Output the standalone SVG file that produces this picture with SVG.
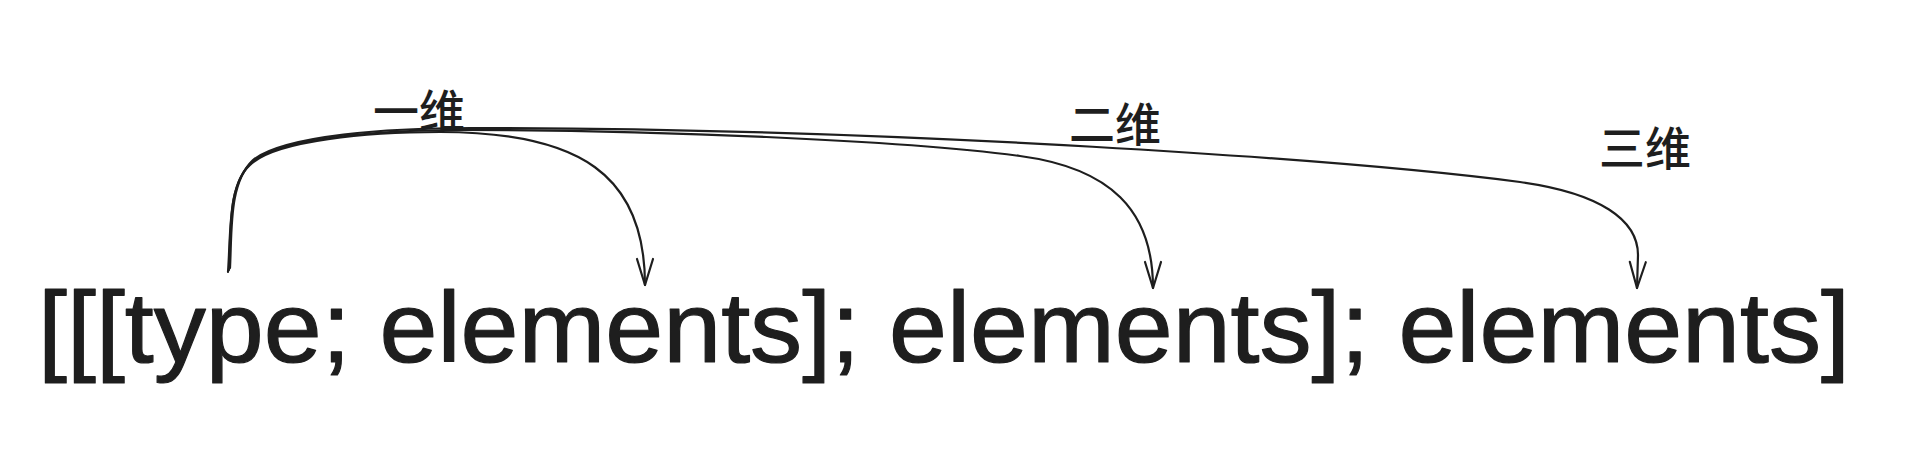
<svg xmlns="http://www.w3.org/2000/svg" width="1916" height="468" viewBox="0 0 1916 468">
  <style>
    .bg { fill: #ffffff; }
    .code { font-family: "Liberation Sans", "DejaVu Sans", sans-serif; font-size: 100px; fill: #1e1e1e; stroke: #1e1e1e; stroke-width: 1.2; stroke-linejoin: round; }
    .lbl { font-family: "Noto Sans CJK SC", "Noto Sans", sans-serif; font-size: 46px; font-weight: 500; fill: #1e1e1e; text-anchor: middle; }
    .conn { fill: none; stroke: #1e1e1e; stroke-width: 2.2; stroke-linecap: round; stroke-linejoin: round; }
  </style>
  <defs>
    <marker id="head" viewBox="-30 -14 34 28" refX="0" refY="0" markerWidth="34" markerHeight="28" markerUnits="userSpaceOnUse" orient="auto">
      <path d="M-26,-8 L0,0 L-26,8" fill="none" stroke="#1e1e1e" stroke-width="2.2" stroke-linecap="round" stroke-linejoin="round"/>
    </marker>
  </defs>
  <rect class="bg" x="0" y="0" width="1916" height="468"/>

  <g id="expression">
    <text class="code" x="38" y="362" textLength="1812" lengthAdjust="spacingAndGlyphs">[[[type; elements]; elements]; elements]</text>
  </g>

  <g id="label-1d">
    <text class="lbl" x="419" y="128">一维</text>
  </g>
  <g id="label-2d">
    <text class="lbl" x="1115" y="141">二维</text>
  </g>
  <g id="label-3d">
    <text class="lbl" x="1645" y="165">三维</text>
  </g>

  <g id="connectors">
    <path class="conn" marker-end="url(#head)" d="M228,272 C231,230 228,185 250,165 C275,140 370,132 440,132 C580,132 645,175 645,285"/>
    <path class="conn" marker-end="url(#head)" d="M229,270 C231,228 228,183 252,162 C280,138 380,130 460,130 C650,130 900,140 1020,156 C1110,168 1153,210 1153,288"/>
    <path class="conn" marker-end="url(#head)" d="M230,268 C232,228 229,183 253,160 C285,135 390,128 470,128 C900,128 1350,160 1520,182 C1600,193 1638,220 1638,255 L1637,288"/>
  </g>
</svg>
